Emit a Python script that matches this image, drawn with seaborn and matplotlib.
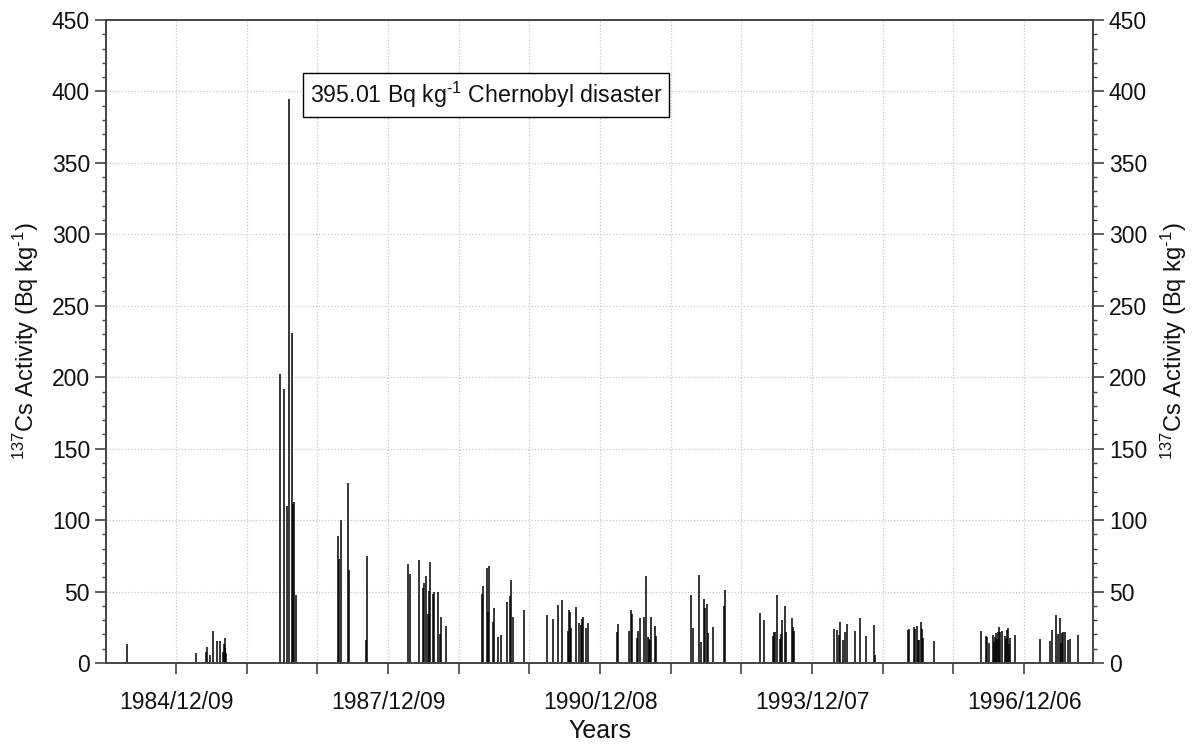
import numpy as np
import pandas as pd
import matplotlib
matplotlib.use("Agg")
import matplotlib.pyplot as plt
import matplotlib.dates as mdates
from matplotlib.ticker import MultipleLocator, FixedLocator
import seaborn as sns

# ---- data (sample time as decimal year, activity Bq/kg) ----
sample_year = [
    1984.244,
    1985.224, 1985.359, 1985.373, 1985.414, 1985.456, 1985.521, 1985.553, 1985.598,
    1985.609, 1985.623, 1985.633, 1985.647,
    1986.413, 1986.461, 1986.511, 1986.536, 1986.571, 1986.590, 1986.604, 1986.635,
    1987.234, 1987.248, 1987.276, 1987.367, 1987.385, 1987.621, 1987.635,
    1988.224, 1988.252, 1988.380, 1988.432, 1988.451, 1988.470, 1988.499, 1988.513,
    1988.527, 1988.569, 1988.584, 1988.640, 1988.668, 1988.683, 1988.753,
    1989.263, 1989.277, 1989.334, 1989.348, 1989.362, 1989.418, 1989.433, 1989.489,
    1989.532, 1989.617, 1989.659, 1989.673, 1989.701, 1989.851,
    1990.183, 1990.267, 1990.338, 1990.395, 1990.480, 1990.498, 1990.512, 1990.526,
    1990.597, 1990.640, 1990.668, 1990.682, 1990.696, 1990.739, 1990.767,
    1991.177, 1991.191, 1991.343, 1991.365, 1991.380, 1991.456, 1991.470, 1991.493,
    1991.549, 1991.588, 1991.616, 1991.630, 1991.644, 1991.658, 1991.715, 1991.729,
    1992.224, 1992.253, 1992.338, 1992.356, 1992.398, 1992.413, 1992.441, 1992.455,
    1992.526, 1992.681, 1992.705,
    1993.201, 1993.253, 1993.381, 1993.395, 1993.409, 1993.437, 1993.479, 1993.494,
    1993.508, 1993.550, 1993.564, 1993.644, 1993.658, 1993.672,
    1994.248, 1994.286, 1994.309, 1994.333, 1994.371, 1994.399, 1994.427, 1994.541,
    1994.606, 1994.691, 1994.814, 1994.828,
    1995.285, 1995.299, 1995.370, 1995.394, 1995.418, 1995.432, 1995.446, 1995.475,
    1995.489, 1995.503, 1995.653,
    1996.328, 1996.385, 1996.399, 1996.441, 1996.488, 1996.502, 1996.516, 1996.530,
    1996.544, 1996.559, 1996.573, 1996.587, 1996.615, 1996.658, 1996.672, 1996.686,
    1996.700, 1996.714, 1996.728, 1996.799,
    1997.149, 1997.295, 1997.323, 1997.379, 1997.408, 1997.436, 1997.450, 1997.464,
    1997.478, 1997.507, 1997.549, 1997.577, 1997.687,
]

cs137_activity = [
    13.5,
    6.8, 8.0, 11.4, 5.8, 22.5, 15.4, 15.4, 7.5,
    13.0, 17.2, 10.5, 7.2,
    202.0, 192.0, 110.0, 395.01, 231.0, 111.0, 113.0, 47.6,
    89.0, 72.8, 100.1, 126.0, 65.0, 16.1, 74.9,
    69.3, 62.5, 72.1, 52.3, 55.8, 61.1, 34.1, 50.4,
    70.7, 48.5, 49.5, 49.5, 20.3, 32.0, 25.7,
    48.3, 53.9, 66.7, 35.7, 68.1, 28.7, 38.7, 18.0,
    19.6, 42.7, 46.9, 57.9, 32.0, 37.3,
    33.4, 30.6, 40.6, 44.1, 22.4, 37.1, 35.7, 24.3,
    39.4, 27.8, 26.6, 30.8, 32.4, 24.3, 27.8,
    21.9, 27.1, 22.4, 37.3, 34.1, 17.3, 22.4, 31.3,
    32.4, 60.6, 18.0, 16.6, 15.9, 32.4, 25.9, 18.9,
    47.6, 24.3, 61.6, 14.7, 44.6, 38.7, 41.3, 20.8,
    25.0, 39.9, 50.9,
    34.8, 29.9, 18.9, 21.5, 21.5, 47.6, 16.8, 20.3,
    30.1, 39.9, 21.5, 31.3, 25.0, 22.4,
    23.8, 23.1, 19.6, 28.5, 16.1, 21.5, 27.3, 22.4,
    31.3, 18.9, 26.4, 5.4,
    23.1, 23.6, 25.0, 23.8, 26.1, 16.1, 16.1, 28.5,
    23.8, 17.5, 15.4,
    22.4, 18.9, 18.2, 14.2, 19.6, 14.9, 18.4, 20.8,
    16.8, 21.9, 25.0, 21.5, 22.4, 18.9, 16.8, 23.1,
    24.3, 13.3, 17.3, 19.6,
    16.8, 15.4, 23.1, 33.4, 20.3, 31.3, 13.8, 20.8,
    21.5, 21.7, 16.1, 16.8, 19.6,
]

tick_labels = ["1984/12/09", "1987/12/09", "1990/12/08", "1993/12/07", "1996/12/06"]
first_tick = "1984-12-09"
annotation = "395.01 Bq kg$^{\u20101}$ Chernobyl disaster"
xlabel = "Years"
ylabel = "$^{137}$Cs Activity (Bq kg$^{\u20101}$)"


def decyear_to_ts(y):
    yr = int(np.floor(y))
    start = pd.Timestamp(f"{yr}-01-01")
    ndays = (pd.Timestamp(f"{yr + 1}-01-01") - start).days
    return start + pd.Timedelta(days=(y - yr) * ndays)


df = pd.DataFrame({
    "date": [decyear_to_ts(y) for y in sample_year],
    "activity": cs137_activity,
})

# ---- style ----
sns.set_style("white")
plt.rcParams["font.family"] = ["Liberation Sans", "DejaVu Sans"]
plt.rcParams["mathtext.fontset"] = "custom"
plt.rcParams["mathtext.rm"] = "Liberation Sans"
plt.rcParams["mathtext.it"] = "Liberation Sans"
plt.rcParams["mathtext.default"] = "regular"

fig = plt.figure(figsize=(11.96, 7.45), dpi=100)
ax = fig.add_axes([106 / 1196, 1 - 663 / 745, (1093 - 106) / 1196, (663 - 20) / 745])

ax.vlines(mdates.date2num(df["date"]), 0, df["activity"], color="black", lw=1.1)
sns.despine(ax=ax, top=False, right=False, left=False, bottom=False)

t0 = pd.Timestamp(first_tick)
xlo = t0 - pd.Timedelta(days=362)
xhi = pd.Timestamp("1996-12-06") + pd.Timedelta(days=356)
ax.set_xlim(mdates.date2num(xlo), mdates.date2num(xhi))
ax.set_ylim(0, 450)

major_dates = [t0 + pd.Timedelta(days=365 * k) for k in range(13)]
major_num = [mdates.date2num(d) for d in major_dates]
major_num = [m for m in major_num if m <= mdates.date2num(xhi)]
ax.xaxis.set_major_locator(FixedLocator(major_num))
labels = []
for k in range(len(major_num)):
    labels.append(tick_labels[k // 3] if k % 3 == 0 else "")
ax.set_xticklabels(labels)

ax.yaxis.set_major_locator(MultipleLocator(50))
ax.yaxis.set_minor_locator(MultipleLocator(10))

spine_color = "#444444"
for s in ax.spines.values():
    s.set_color(spine_color)
    s.set_linewidth(1.4)

ax.tick_params(axis="x", which="major", direction="out", length=8, width=1.2,
               colors=spine_color, labelcolor="#111111", labelsize=16.5, pad=12, bottom=True)
ax.tick_params(axis="y", which="major", direction="out", length=8, width=1.2,
               colors=spine_color, labelcolor="#111111", labelsize=16.5, left=True, right=False)
ax.tick_params(axis="y", which="minor", direction="out", length=3, width=1.0,
               colors=spine_color, left=True, right=False)

ax.grid(True, which="major", axis="both", color="#c8c8c8", linestyle=(0, (1, 1.5)), lw=0.9)
ax.set_axisbelow(True)

ax.set_xlabel(xlabel, fontsize=18, labelpad=4, color="#111111")
ax.set_ylabel(ylabel, fontsize=17, labelpad=8, color="#111111")

# right axis mirror
ax2 = ax.twinx()
ax2.set_ylim(ax.get_ylim())
ax2.yaxis.set_major_locator(MultipleLocator(50))
ax2.yaxis.set_minor_locator(MultipleLocator(10))
ax2.tick_params(axis="y", which="major", direction="out", length=8, width=1.2,
                colors=spine_color, labelcolor="#111111", labelsize=16.5)
ax2.tick_params(axis="y", which="minor", direction="out", length=3, width=1.0,
                colors=spine_color)
for s in ax2.spines.values():
    s.set_visible(False)
ax2.set_ylabel(ylabel, fontsize=17, labelpad=8, color="#111111")
ax2.grid(False)

ax.text(0.2067, 0.883, annotation, transform=ax.transAxes, fontsize=16.7,
        ha="left", va="center", color="#111111",
        bbox=dict(boxstyle="square,pad=0.3", fc="white", ec="black", lw=1.0))

fig.savefig("out.png", dpi=100)
